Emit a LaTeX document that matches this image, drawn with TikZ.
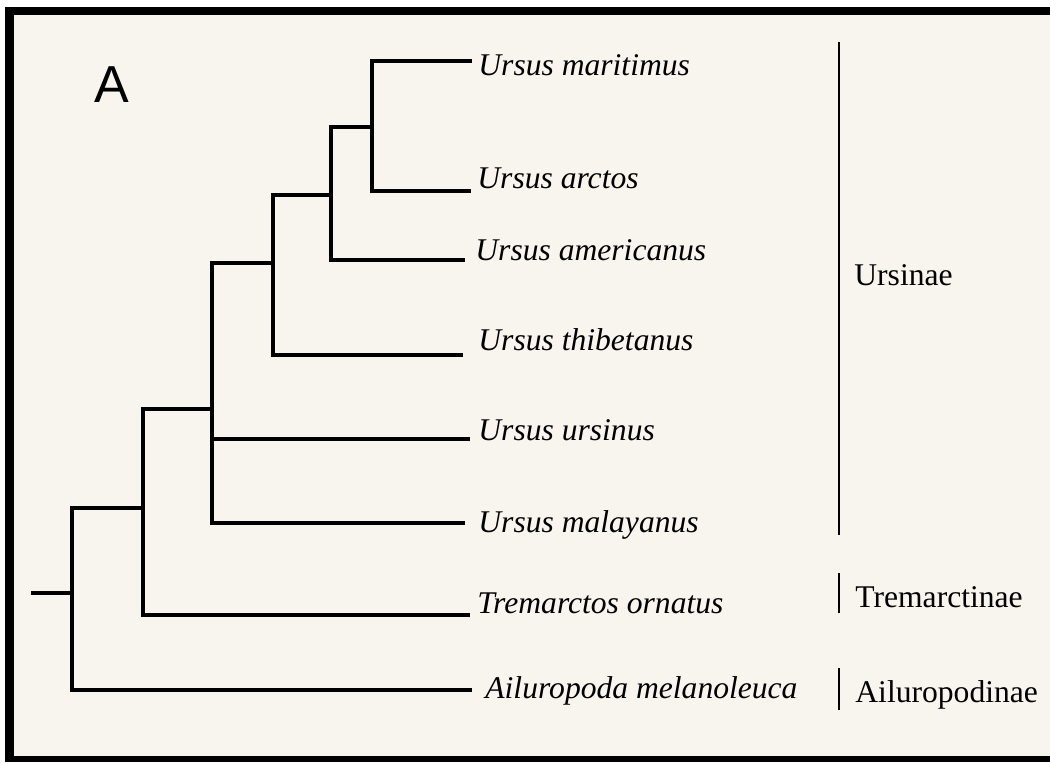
\documentclass[tikz,border=0pt]{standalone}
\usepackage{fontspec}
\setmainfont{Liberation Serif}
\newfontfamily\panelfont{Liberation Sans}
\definecolor{paper}{RGB}{247,245,238}
\tikzset{
	branch/.style={line width=1.6pt,line cap=rect},
	cladebar/.style={line width=1pt},
	taxon/.style={anchor=base west,inner sep=0pt,font=\fontsize{15.8pt}{18pt}\selectfont\itshape},
	clade/.style={anchor=base west,inner sep=0pt,font=\fontsize{15.8pt}{19pt}\selectfont}
}
\begin{document}
\begin{tikzpicture}[x=0.5pt,y=-0.5pt]
		% Rahmen
		\useasboundingbox (0,0) rectangle (1050,762);
		\fill[white] (0,0) rectangle (1050,762);
		\fill[black] (5,7) rectangle (1050,762);
		\fill[paper] (14,15) rectangle (1050,756);

		% Knoten
		\coordinate (stem) at (33,593);
		\coordinate (root) at (72,593);
		\coordinate (n1) at (143,508);
		\coordinate (n2) at (212,409);
		\coordinate (n3) at (273,263);
		\coordinate (n4) at (331,195);
		\coordinate (n5) at (372,127);
		\coordinate (tMar) at (470,61);
		\coordinate (tArc) at (469,191);
		\coordinate (tAme) at (463,260);
		\coordinate (tThi) at (461,355);
		\coordinate (tUrs) at (468,439);
		\coordinate (tMal) at (463,523);
		\coordinate (tTre) at (468,615);
		\coordinate (tAil) at (470,690);

		% Kanten
		\draw[branch] (stem) -- (root);
		\draw[branch] (root) |- (n1);
		\draw[branch] (root) |- (tAil);
		\draw[branch] (n1) |- (n2);
		\draw[branch] (n1) |- (tTre);
		\draw[branch] (n2) |- (n3);
		\draw[branch] (n2) |- (tUrs);
		\draw[branch] (n2) |- (tMal);
		\draw[branch] (n3) |- (n4);
		\draw[branch] (n3) |- (tThi);
		\draw[branch] (n4) |- (n5);
		\draw[branch] (n4) |- (tAme);
		\draw[branch] (n5) |- (tMar);
		\draw[branch] (n5) |- (tArc);

		% Arten
		\node (Mar) at (478,75) [taxon] {Ursus maritimus};
		\node (Arc) at (477,188) [taxon] {Ursus arctos};
		\node (Ame) at (475,260) [taxon] {Ursus americanus};
		\node (Thi) at (478,350) [taxon] {Ursus thibetanus};
		\node (Urs) at (478,440) [taxon] {Ursus ursinus};
		\node (Mal) at (478,532) [taxon] {Ursus malayanus};
		\node (Tre) at (477,613) [taxon] {Tremarctos ornatus};
		\node (Ail) at (485,698) [taxon] {Ailuropoda melanoleuca};

		% Unterfamilien
		\coordinate (bUrsA) at (839,42);
		\coordinate (bUrsB) at (839,535);
		\coordinate (bTreA) at (839,573);
		\coordinate (bTreB) at (839,613);
		\coordinate (bAilA) at (839,668);
		\coordinate (bAilB) at (839,710);
		\draw[cladebar] (bUrsA) -- (bUrsB);
		\draw[cladebar] (bTreA) -- (bTreB);
		\draw[cladebar] (bAilA) -- (bAilB);
		\node (Ursinae) at (854,285) [clade] {Ursinae};
		\node (Tremarctinae) at (855,607) [clade] {Tremarctinae};
		\node (Ailuropodinae) at (855,702) [clade] {Ailuropodinae};

		% Tafel
		\node (panel) at (94,102) [anchor=base west,inner sep=0pt,font=\fontsize{26pt}{30pt}\panelfont] {A};
	\end{tikzpicture}
\end{document}
